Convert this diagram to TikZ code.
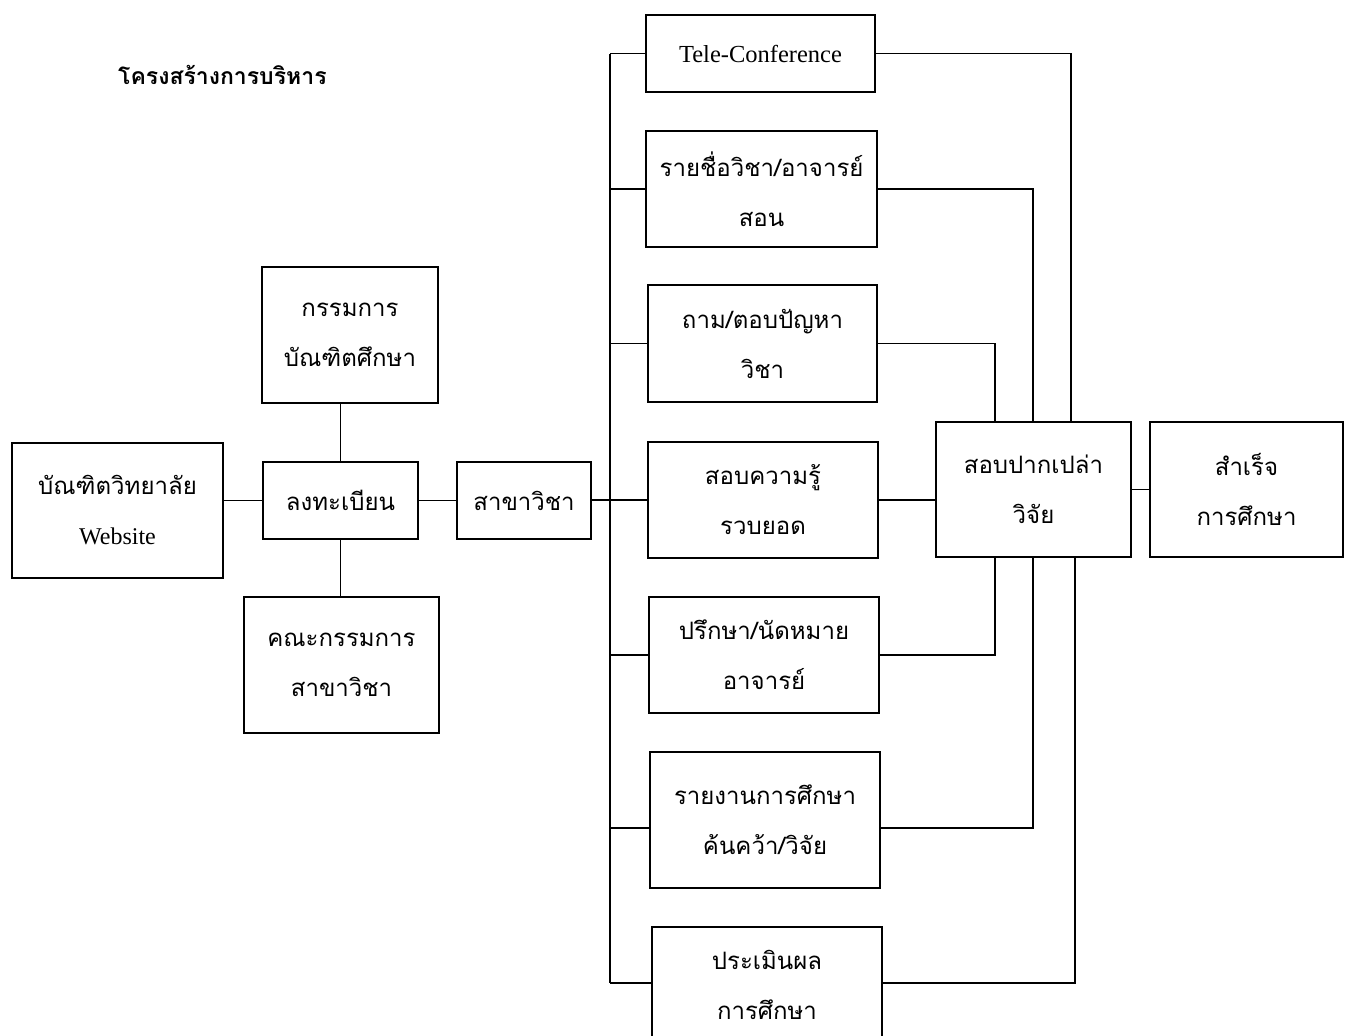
\documentclass[tikz,border=0pt]{standalone}
\usepackage{fontspec}
\setmainfont{Liberation Serif}
\newfontfamily\thai[Script=Thai]{Loma}
\newcommand\thaitext{\thai\fontsize{24}{50}\selectfont}
\begin{document}
\begin{tikzpicture}[x=1pt,y=-1pt,
  box/.style={draw, line width=1.3pt, inner sep=0pt, align=center, font=\thaitext},
  conn/.style={line width=1.3pt}]
\useasboundingbox (0,0) rectangle (1350,1036);
\clip (0,0) rectangle (1350,1036);
\fill[white] (0,0) rectangle (1350,1036);

% title
\node[font=\thai\bfseries\fontsize{23}{30}\selectfont, anchor=west, inner sep=0pt] (title) at (118,75) {โครงสร้างการบริหาร};

% left part
\node[box, minimum width=211pt, minimum height=135pt] (web) at (117.5,510.5) {บัณฑิตวิทยาลัย\\\rmfamily Website};
\node[box, minimum width=155pt, minimum height=77pt] (reg) at (340.5,500.5) {ลงทะเบียน};
\node[box, minimum width=176pt, minimum height=136pt] (grad) at (350,335) {กรรมการ\\บัณฑิตศึกษา};
\node[box, minimum width=195pt, minimum height=136pt] (comm) at (341.5,665) {คณะกรรมการ\\สาขาวิชา};
\node[box, minimum width=134pt, minimum height=77pt] (dept) at (524,500.5) {สาขาวิชา};

% middle column
\node[box, minimum width=229pt, minimum height=77pt] (tele) at (760.5,53.5) {\rmfamily\fontsize{24.5}{30}\selectfont Tele-Conference};
\node[box, minimum width=231pt, minimum height=116pt] (list) at (761.5,189) {รายชื่อวิชา/อาจารย์\\สอน};
\node[box, minimum width=229pt, minimum height=117pt] (qa) at (762.5,343.5) {ถาม/ตอบปัญหา\\วิชา};
\node[box, minimum width=230pt, minimum height=116pt] (exam) at (763,500) {สอบความรู้\\รวบยอด};
\node[box, minimum width=230pt, minimum height=116pt] (consult) at (764,655) {ปรึกษา/นัดหมาย\\อาจารย์};
\node[box, minimum width=230pt, minimum height=136pt] (report) at (765,820) {รายงานการศึกษา\\ค้นคว้า/วิจัย};
\node[box, minimum width=230pt, minimum height=116pt] (eval) at (767,985) {ประเมินผล\\การศึกษา};

% right part
\node[box, minimum width=195pt, minimum height=135pt] (oral) at (1033.5,489.5) {สอบปากเปล่า\\วิจัย};
\node[box, minimum width=193pt, minimum height=135pt] (done) at (1246.5,489.5) {สำเร็จ\\การศึกษา};

% helper coordinates
\coordinate (bus) at (610,0);
\coordinate (r1) at (1071,0);
\coordinate (r2) at (1033,0);
\coordinate (r3) at (995,0);
\coordinate (repW) at ([yshift=-8pt]report.west);
\coordinate (repE) at ([yshift=-8pt]report.east);
\coordinate (evW) at ([yshift=2pt]eval.west);
\coordinate (evE) at ([yshift=2pt]eval.east);

% left connectors
\draw[conn] (web.east |- reg.west) -- (reg.west);
\draw[conn] (reg.north) -- (reg.north |- grad.south);
\draw[conn] (reg.south) -- (reg.south |- comm.north);
\draw[conn] (reg.east) -- (dept.west |- reg.east);
\draw[conn] (dept.east |- exam.west) -- (exam.west);

% bus
\draw[conn] (bus |- tele.west) -- (bus |- evW);
\draw[conn] (bus |- tele.west) -- (tele.west);
\draw[conn] (bus |- list.west) -- (list.west);
\draw[conn] (bus |- qa.west) -- (qa.west);
\draw[conn] (bus |- consult.west) -- (consult.west);
\draw[conn] (bus |- repW) -- (repW);
\draw[conn] (bus |- evW) -- (evW);

% right connectors
\draw[conn] (tele.east) -| (r1 |- oral.north);
\draw[conn] (list.east) -| (r2 |- oral.north);
\draw[conn] (qa.east) -| (r3 |- oral.north);
\draw[conn] (exam.east) -- (oral.west |- exam.east);
\draw[conn] (consult.east) -| (r3 |- oral.south);
\draw[conn] (repE) -| (r2 |- oral.south);
\draw[conn] (evE) -| ([xshift=4pt]r1 |- oral.south);
\draw[conn] (oral.east) -- (done.west);
\end{tikzpicture}
\end{document}
